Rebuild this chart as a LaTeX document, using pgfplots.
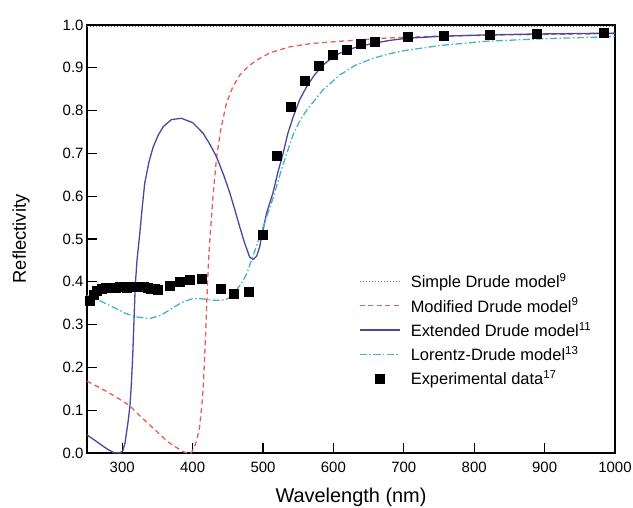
\documentclass[border=0pt]{standalone}
\usepackage{pgfplots}
\pgfplotsset{compat=1.18}
\usepackage{fontspec}
\setmainfont{Liberation Sans}
\definecolor{modred}{RGB}{230,95,85}
\definecolor{extblue}{RGB}{75,70,160}
\definecolor{ldcyan}{RGB}{70,180,190}
\definecolor{sdgray}{RGB}{110,110,110}
\begin{document}
\begin{tikzpicture}
\begin{axis}[
  name=ax,
  scale only axis,
  width=528bp, height=428bp,
  xmin=250, xmax=1000, ymin=0, ymax=1,
  xtick={300,400,...,1000},
  ytick={0,0.1,...,1.0},
  /pgf/number format/set thousands separator={},
  /pgf/number format/assume math mode=true,
  yticklabel style={/pgf/number format/fixed,/pgf/number format/fixed zerofill,/pgf/number format/precision=1},
  tick align=inside,
  xtick pos=lower, ytick pos=left,
  major tick length=10bp,
  tick style={black, line width=1.1bp},
  axis line style={black, line width=1.5bp},
  tick label style={font=\fontsize{15}{18}\selectfont},
  xticklabel style={yshift=-6bp},
  xlabel={Wavelength (nm)},
  ylabel={Reflectivity},
  xlabel style={font=\fontsize{20}{23}\selectfont, at={(axis description cs:0.5,-0.1168)}, anchor=base},
  ylabel style={font=\fontsize{18.5}{21}\selectfont, at={(axis description cs:-0.125,0.5)}, anchor=center},
  legend style={draw=none, fill=none, at={(rel axis cs:0.5097,0.43)}, anchor=north west,
    font=\fontsize{16.5}{19}\selectfont, row sep=3.5bp, column sep=8bp, nodes={inner sep=2.5bp}},
  legend cell align=left,
  legend image code/.code={\draw[mark repeat=2,mark phase=2,#1] plot coordinates {(0cm,0cm) (0.7cm,0cm) (1.4cm,0cm)};},
]
\addplot[sdgray, line width=1bp, dash pattern=on 1bp off 2bp] coordinates {(250,0.996) (1000,0.996)};
\addlegendentry{Simple Drude model\textsuperscript{9}}

\addplot[modred, line width=1.3bp, dash pattern=on 5bp off 3.5bp] coordinates {
(250,0.168) (265,0.155) (280,0.142) (295,0.127) (311,0.110) (325,0.087) (342,0.061)
(355,0.041) (365,0.026) (377,0.013) (387,0.003) (392,0) (398,0) (402,0.012) (406,0.03)
(410,0.061) (413,0.11) (415,0.15) (417,0.22) (419,0.3) (421,0.39) (423,0.46) (425,0.51)
(429,0.6) (434,0.69) (440,0.755) (448,0.817) (457,0.855) (467,0.883) (479,0.903)
(491,0.918) (510,0.935) (538,0.949) (570,0.957) (609,0.962) (680,0.970) (750,0.974)
(850,0.977) (1000,0.980)};
\addlegendentry{Modified Drude model\textsuperscript{9}}

\addplot[extblue, line width=1.3bp] coordinates {
(250,0.042) (260,0.031) (270,0.019) (280,0.008) (288,0.001) (297,0.0) (301,0.006)
(304,0.023) (308.6,0.076) (311,0.11) (313,0.16) (315,0.23) (317,0.32) (318.5,0.39)
(321,0.45) (325,0.513) (328.5,0.575) (332,0.63) (338,0.68) (344,0.715) (351,0.742)
(358,0.762) (370,0.779) (384,0.782) (400,0.772) (415,0.747) (425,0.72) (434,0.692)
(444,0.65) (453,0.607) (460,0.568) (467,0.528) (474,0.49) (481,0.458) (486,0.452)
(491,0.46) (495,0.48) (500,0.52) (505,0.56) (514,0.607) (521,0.655) (528.6,0.70)
(535,0.745) (543,0.786) (552,0.825) (562,0.856) (573,0.883) (585,0.906) (597,0.922)
(609,0.934) (630,0.947) (656,0.957) (680,0.964) (704,0.969) (757,0.974) (822,0.977)
(889,0.979) (1000,0.981)};
\addlegendentry{Extended Drude model\textsuperscript{11}}

\addplot[ldcyan, line width=1.3bp, dash pattern=on 7bp off 2.5bp on 1.5bp off 2.5bp] coordinates {
(250,0.368) (264,0.359) (287,0.341) (305,0.326) (320,0.318) (339,0.314) (355,0.322)
(368,0.335) (385,0.352) (401,0.361) (415,0.360) (429,0.357) (440,0.357) (448,0.359)
(455,0.366) (462,0.38) (470,0.398) (477,0.419) (481,0.438) (490,0.48) (500,0.527)
(514,0.594) (528,0.672) (543,0.745) (552,0.775) (562,0.801) (585,0.848) (609,0.883)
(630,0.905) (656,0.922) (680,0.933) (704,0.941) (751,0.952) (817,0.962) (900,0.968)
(1000,0.973)};
\addlegendentry{Lorentz-Drude model\textsuperscript{13}}

\addplot[only marks, mark=square*, mark size=4.5bp, black] coordinates {
(254,0.357) (259,0.369) (264,0.379) (271,0.384) (276,0.386) (281,0.387) (286,0.387)
(291,0.387) (296,0.388) (301,0.388) (306,0.387) (311,0.388) (316,0.388) (321,0.389)
(326,0.389) (331,0.388) (336,0.387) (341,0.385) (346,0.383) (351,0.382) (367,0.392)
(381,0.400) (396,0.404) (413,0.408) (440,0.384) (459,0.373) (479,0.376) (499,0.509)
(520,0.694) (539,0.809) (559,0.869) (579,0.905) (599,0.930) (619,0.943) (639,0.956)
(659,0.962) (705,0.972) (757,0.974) (822,0.977) (889,0.980) (984,0.981)};
\addlegendentry{Experimental data\textsuperscript{17}}
\end{axis}
\pgfresetboundingbox
\path[use as bounding box] ([xshift=-87bp,yshift=-55bp]ax.south west) rectangle ([xshift=18bp,yshift=25bp]ax.north east);
\end{tikzpicture}
\end{document}
